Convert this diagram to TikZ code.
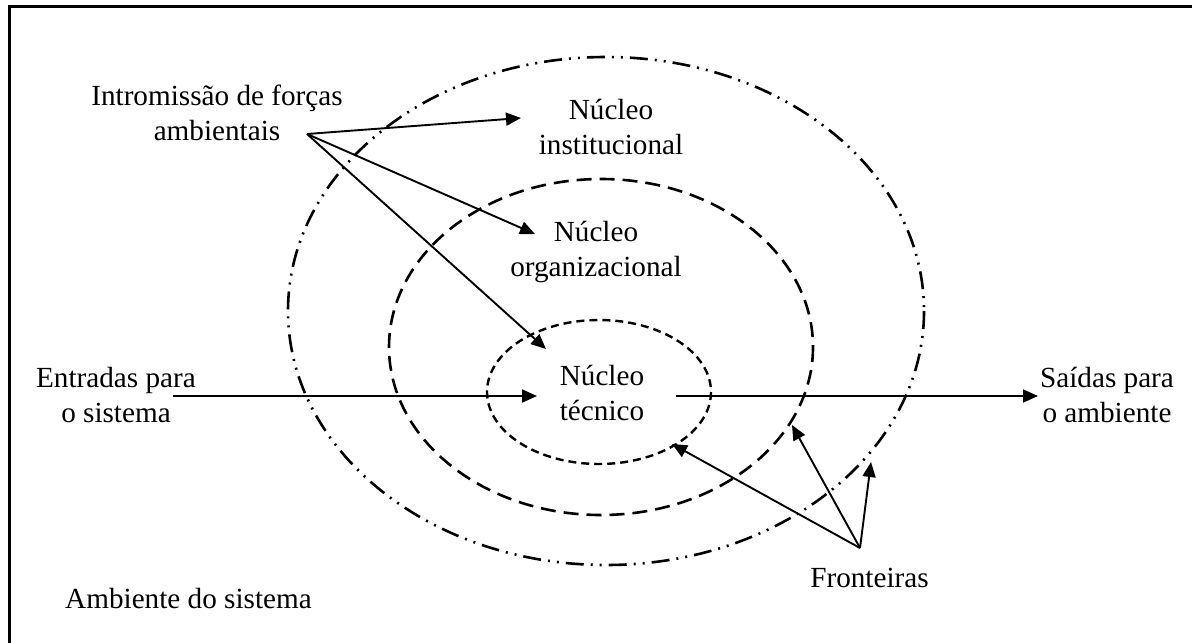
\documentclass[tikz,border=0pt]{standalone}
\usepackage{fontspec}
\setmainfont{Liberation Serif}
\usetikzlibrary{arrows.meta}
\begin{document}
\begin{tikzpicture}[x=0.5pt,y=-0.5pt,
  lbl/.style={font=\fontsize{14.6pt}{17.5pt}\selectfont, inner sep=0pt, align=center},
  arr/.style={line width=0.95pt, -{Triangle[length=7.5pt,width=6.5pt]}},
  frame/.style={line width=1.5pt},
  outerb/.style={line width=1.3pt, dash pattern=on 9pt off 3.5pt on 1pt off 3.5pt on 1pt off 3.5pt},
  midb/.style={line width=1.3pt, dash pattern=on 7.5pt off 4pt},
  innerb/.style={line width=1.2pt, dash pattern=on 4pt off 2.5pt}]
\useasboundingbox (0,0) rectangle (1192,642);
% frame (right and bottom edges lie beyond the page)
\draw[frame] (9,660) -- (9,7) -- (1210,7);

% system boundaries
\draw[outerb] (606,311) ellipse [x radius=318, y radius=254];
\draw[midb]   (601,347) ellipse [x radius=212, y radius=168];
\draw[innerb] (599,392) ellipse [x radius=112, y radius=72];

% labels
\node[lbl] (intro) at (217,113) {Intromissão de forças\\ambientais};
\node[lbl] (inst)  at (611,127) {Núcleo\\institucional};
\node[lbl] (org)   at (596,252) {Núcleo\\organizacional};
\node[lbl] (tec)   at (602,393) {Núcleo\\técnico};
\node[lbl] (ent)   at (116,395) {Entradas para\\o sistema};
\node[lbl] (sai)   at (1107,395) {Saídas para\\o ambiente};
\node[lbl, anchor=base] (fro) at (869.5,587) {Fronteiras};
\node[lbl, anchor=base] (amb) at (188.5,608) {Ambiente do sistema};

% connector end points
\coordinate (src)   at (307,134);
\coordinate (tInst) at (521,118);
\coordinate (tOrg)  at (535,234);
\coordinate (tTec)  at (546,349);
\coordinate (inS)   at (173,396);
\coordinate (inE)   at (537,396);
\coordinate (outS)  at (676,396);
\coordinate (outE)  at (1038,396);
\coordinate (fsrc)  at (860,548);
\coordinate (fInner) at (672,444);
\coordinate (fMid)   at (792,425);
\coordinate (fOuter) at (871,462);

% environmental forces
\draw[arr] (src) -- (tInst);
\draw[arr] (src) -- (tOrg);
\draw[arr] (src) -- (tTec);

% inputs and outputs
\draw[arr] (inS) -- (inE);
\draw[arr] (outS) -- (outE);

% boundaries
\draw[arr] (fsrc) -- (fInner);
\draw[arr] (fsrc) -- (fMid);
\draw[arr] (fsrc) -- (fOuter);
\end{tikzpicture}
\end{document}
